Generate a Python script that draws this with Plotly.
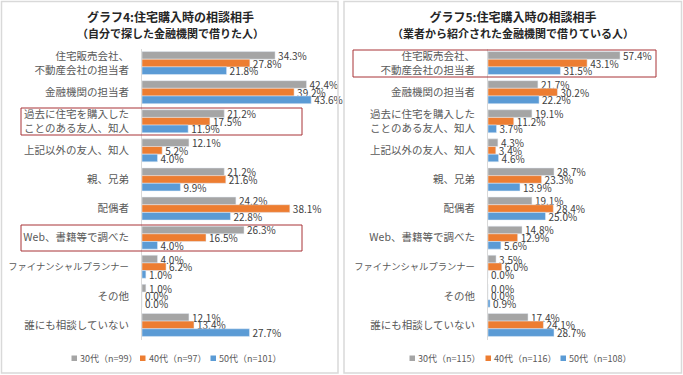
import plotly.graph_objects as go

W, H = 683, 375

categories = [
    "住宅販売会社、<br>不動産会社の担当者",
    "金融機関の担当者",
    "過去に住宅を購入した<br>ことのある友人、知人",
    "上記以外の友人、知人",
    "親、兄弟",
    "配偶者",
    "Web、書籍等で調べた",
    "ファイナンシャルプランナー",
    "その他",
    "誰にも相談していない",
]
# tick labels (the long katakana label is set a little smaller, as in the original)
tick_labels = [
    "住宅販売会社、<br>不動産会社の担当者",
    "金融機関の担当者",
    "過去に住宅を購入した<br>ことのある友人、知人",
    "上記以外の友人、知人",
    "親、兄弟",
    "配偶者",
    "Web、書籍等で調べた",
    "<span style='font-size:9.3px'>ファイナンシャルプランナー</span>",
    "その他",
    "誰にも相談していない",
]

series_names_left = ["30代（n=99）", "40代（n=97）", "50代（n=101）"]
left_30 = [34.3, 42.4, 21.2, 12.1, 21.2, 24.2, 26.3, 4.0, 1.0, 12.1]
left_40 = [27.8, 39.2, 17.5, 5.2, 21.6, 38.1, 16.5, 6.2, 0.0, 13.4]
left_50 = [21.8, 43.6, 11.9, 4.0, 9.9, 22.8, 4.0, 1.0, 0.0, 27.7]

series_names_right = ["30代（n=115）", "40代（n=116）", "50代（n=108）"]
right_30 = [57.4, 21.7, 19.1, 4.3, 28.7, 19.1, 14.8, 3.5, 0.0, 17.4]
right_40 = [43.1, 30.2, 11.2, 3.4, 23.3, 28.4, 12.9, 6.0, 0.0, 24.1]
right_50 = [31.5, 22.2, 3.7, 4.6, 13.9, 25.0, 5.6, 0.0, 0.9, 28.7]

title_left = ("<b>グラフ4:住宅購入時の相談相手</b><br>"
              "<span style='font-size:11px'><b>（自分で探した金融機関で借りた人）</b></span>")
title_right = ("<b>グラフ5:住宅購入時の相談相手</b><br>"
               "<span style='font-size:11px'><b>（業者から紹介された金融機関で借りている人）</b></span>")

colors = ["#A5A5A5", "#ED7D31", "#5B9BD5"]
FONT = "Noto Sans CJK JP"

fig = go.Figure()

for vals, name, col in zip([left_30, left_40, left_50], series_names_left, colors):
    fig.add_trace(go.Bar(
        y=categories, x=vals, name=name, orientation="h",
        marker_color=col, xaxis="x", yaxis="y", showlegend=False,
        texttemplate="%{x:.1f}%", textposition="outside", cliponaxis=False,
        constraintext="none", textfont=dict(size=10, color="#404040", family=FONT),
    ))
for vals, name, col in zip([right_30, right_40, right_50], series_names_right, colors):
    fig.add_trace(go.Bar(
        y=categories, x=vals, name=name, orientation="h",
        marker_color=col, xaxis="x2", yaxis="y2", showlegend=False,
        texttemplate="%{x:.1f}%", textposition="outside", cliponaxis=False,
        constraintext="none", textfont=dict(size=10, color="#404040", family=FONT),
    ))

def px_x(v):
    return v / W

def px_y(v):
    return 1 - v / H

ydom = [px_y(339.5), px_y(48.5)]
yax = dict(domain=ydom, autorange="reversed", showline=True, linecolor="#D9D9D9",
           linewidth=1, ticks="", ticklabelstandoff=10, showgrid=False, automargin=False,
           tickmode="array", tickvals=categories, ticktext=tick_labels,
           tickfont=dict(size=10.5, color="#595959", family=FONT), fixedrange=True)

fig.update_layout(
    width=W, height=H,
    margin=dict(l=0, r=0, t=0, b=0, autoexpand=False),
    paper_bgcolor="white", plot_bgcolor="white",
    font=dict(family=FONT, color="#404040"),
    barmode="group", bargap=0.21, bargroupgap=0,
    xaxis=dict(domain=[px_x(142), px_x(142 + 45 * 3.88)], range=[0, 45], visible=False,
               anchor="y", automargin=False, fixedrange=True),
    yaxis=dict(anchor="x", **yax),
    xaxis2=dict(domain=[px_x(488), px_x(488 + 70 * 2.30)], range=[0, 70], visible=False,
                anchor="y2", automargin=False, fixedrange=True),
    yaxis2=dict(anchor="x2", **yax),
    showlegend=False,
    hovermode=False,
)

fig.add_annotation(text=title_left, x=px_x(170), y=px_y(24), xref="paper", yref="paper",
                   showarrow=False, xanchor="center", yanchor="middle",
                   font=dict(size=12, color="#262626", family=FONT))
fig.add_annotation(text=title_right, x=px_x(513), y=px_y(24), xref="paper", yref="paper",
                   showarrow=False, xanchor="center", yanchor="middle",
                   font=dict(size=12, color="#262626", family=FONT))

# legends (small square keys followed by the series name)
def legend_entry(xsq, name, col):
    fig.add_shape(type="rect", xref="paper", yref="paper",
                  x0=px_x(xsq), x1=px_x(xsq + 5.5), y0=px_y(361), y1=px_y(355.5),
                  line=dict(width=0), fillcolor=col)
    fig.add_annotation(text=name, x=px_x(xsq + 6.5), y=px_y(358), xref="paper", yref="paper",
                       showarrow=False, xanchor="left", yanchor="middle",
                       font=dict(size=9, color="#595959", family=FONT))

for xsq, name, col in zip([71.5, 140, 210.5], series_names_left, colors):
    legend_entry(xsq, name, col)
for xsq, name, col in zip([409.5, 485.5, 560.5], series_names_right, colors):
    legend_entry(xsq, name, col)

def rect(x0, y0, x1, y1, color, width):
    fig.add_shape(type="rect", xref="paper", yref="paper",
                  x0=px_x(x0), x1=px_x(x1), y0=px_y(y1), y1=px_y(y0),
                  line=dict(color=color, width=width), fillcolor="rgba(0,0,0,0)", layer="above")

rect(1.5, 1.5, 338, 373, "#D9D9D9", 1.5)
rect(344, 1.5, 681.5, 373, "#D9D9D9", 1.5)
rect(21, 108, 302, 135, "#A83236", 1)
rect(21, 225, 302, 251, "#A83236", 1)
rect(353, 50, 656, 77, "#A83236", 1)

fig.write_html("out.html",
               config={"displayModeBar": False, "staticPlot": True},
               post_script="document.body.style.margin='0px';document.body.style.overflow='hidden';")
